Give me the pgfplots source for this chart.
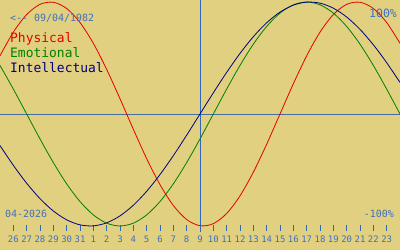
\documentclass[border=0pt]{standalone}
\usepackage{pgfplots}
\pgfplotsset{compat=1.18}
\usepackage{fontspec}
\setmainfont{DejaVu Sans Mono}
\setmonofont{DejaVu Sans Mono}
\definecolor{bg}{RGB}{224,208,128}
\definecolor{txtblue}{RGB}{64,112,192}
\definecolor{axblue}{RGB}{48,104,184}
\definecolor{hblue}{RGB}{72,108,160}
\definecolor{pred}{RGB}{230,0,0}
\definecolor{egreen}{RGB}{0,128,0}
\definecolor{inavy}{RGB}{0,0,128}
\begin{document}
\begin{tikzpicture}
\useasboundingbox (0,-22bp) rectangle (400bp,228bp);
\fill[bg] (0,-22bp) rectangle (400bp,228bp);
\begin{axis}[at={(0,0)}, anchor=south west, scale only axis, width=400bp, height=228bp,
  xmin=-15, xmax=15, ymin=-1.0179, ymax=1.0179,
  axis line style={draw=none}, clip=false,
  xtick={-14,...,14},
  xticklabels={26,27,28,29,30,31,1,2,3,4,5,6,7,8,9,10,11,12,13,14,15,16,17,18,19,20,21,22,23},
  xtick pos=lower, ytick=\empty, tick align=center, major tick length=6bp,
  tick style={axblue, line width=0.8bp},
  xticklabel style={font=\fontsize{9}{9}\selectfont, text=txtblue, inner sep=0pt, yshift=-5bp},
  legend image code/.code={}, legend cell align=left,
  legend style={at={(axis cs:-14.25,0.732)}, anchor=north west, draw=none, fill=none, inner sep=0pt,
    font=\fontsize{13}{15}\selectfont, row sep=0pt,
    nodes={inner sep=0pt, text height=10.5bp, text depth=4.5bp}},
]
\draw[hblue, line width=0.8bp] (axis cs:-15,0) -- (axis cs:15,0);
\draw[axblue, line width=0.8bp] (axis cs:0,-1.05) -- (axis cs:0,1.0179);
\addplot[pred, line width=0.8bp, smooth] coordinates {
(-15,0.5196) (-14,0.7308) (-13,0.8879) (-12,0.9791) (-11,0.9977) (-10,0.9423) (-9,0.8170) (-8,0.6311)
(-7,0.3984) (-6,0.1362) (-5,-0.1362) (-4,-0.3984) (-3,-0.6311) (-2,-0.8170) (-1,-0.9423) (0,-0.9977)
(1,-0.9791) (2,-0.8879) (3,-0.7308) (4,-0.5196) (5,-0.2698) (6,0) (7,0.2698) (8,0.5196) (9,0.7308)
(10,0.8879) (11,0.9791) (12,0.9977) (13,0.9423) (14,0.8170) (15,0.6311)};
\addlegendentry{\textcolor{pred}{Physical}}
\addplot[egreen, line width=0.8bp, smooth] coordinates {
(-15,0.4339) (-14,0.2225) (-13,0) (-12,-0.2225) (-11,-0.4339) (-10,-0.6235) (-9,-0.7818) (-8,-0.9010)
(-7,-0.9749) (-6,-1) (-5,-0.9749) (-4,-0.9010) (-3,-0.7818) (-2,-0.6235) (-1,-0.4339) (0,-0.2225)
(1,0) (2,0.2225) (3,0.4339) (4,0.6235) (5,0.7818) (6,0.9010) (7,0.9749) (8,1) (9,0.9749)
(10,0.9010) (11,0.7818) (12,0.6235) (13,0.4339) (14,0.2225) (15,0)};
\addlegendentry{\textcolor{egreen}{Emotional}}
\addplot[inavy, line width=0.8bp, smooth] coordinates {
(-15,-0.2817) (-14,-0.4582) (-13,-0.6182) (-12,-0.7557) (-11,-0.8660) (-10,-0.9450) (-9,-0.9898) (-8,-0.9989)
(-7,-0.9718) (-6,-0.9096) (-5,-0.8146) (-4,-0.6901) (-3,-0.5406) (-2,-0.3717) (-1,-0.1893) (0,0)
(1,0.1893) (2,0.3717) (3,0.5406) (4,0.6901) (5,0.8146) (6,0.9096) (7,0.9718) (8,0.9989) (9,0.9898)
(10,0.9450) (11,0.8660) (12,0.7557) (13,0.6182) (14,0.4582) (15,0.2817)};
\addlegendentry{\textcolor{inavy}{Intellectual}}
\node[anchor=base west, text=txtblue, font=\fontsize{10}{12}\selectfont, inner sep=0pt] at (axis cs:-14.25,0.830) {<-{}- 09/04/1982};
\node[anchor=base east, text=txtblue, font=\fontsize{11.5}{12}\selectfont, inner sep=0pt] at (axis cs:14.775,0.866) {100\%};
\node[anchor=base west, text=txtblue, font=\fontsize{10}{12}\selectfont, inner sep=0pt] at (axis cs:-14.625,-0.920) {04-2026};
\node[anchor=base east, text=txtblue, font=\fontsize{10}{12}\selectfont, inner sep=0pt] at (axis cs:14.55,-0.920) {-100\%};
\end{axis}
\end{tikzpicture}
\end{document}
